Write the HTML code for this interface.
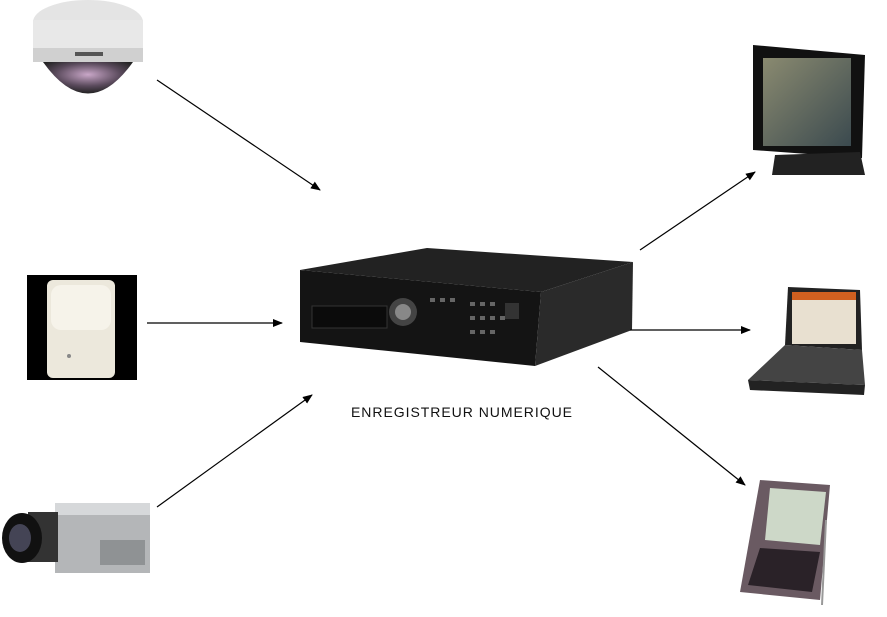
<!DOCTYPE html>
<html><head><meta charset="utf-8"><style>
body{margin:0;background:#fff;width:887px;height:612px;overflow:hidden;font-family:"Liberation Sans",sans-serif}
</style></head><body>
<svg width="887" height="612" viewBox="0 0 887 612" xmlns="http://www.w3.org/2000/svg">
<defs>
<marker id="a" markerWidth="10" markerHeight="8" refX="9" refY="4" orient="auto" markerUnits="userSpaceOnUse"><path d="M0,0 L10,4 L0,8z" fill="#000"/></marker>
<radialGradient id="dome" cx="50%" cy="40%" r="60%"><stop offset="0" stop-color="#c9a7c8"/><stop offset="0.6" stop-color="#5a4a5c"/><stop offset="1" stop-color="#222"/></radialGradient>
<linearGradient id="scr" x1="0" y1="0" x2="1" y2="1"><stop offset="0" stop-color="#8a8a70"/><stop offset="1" stop-color="#3b4a4f"/></linearGradient>
</defs>
<!-- dome camera -->
<ellipse cx="88" cy="22" rx="55" ry="22" fill="#e4e4e4"/>
<rect x="33" y="20" width="110" height="42" fill="#e8e8e8"/>
<rect x="33" y="48" width="110" height="14" fill="#d0d0d0"/>
<rect x="75" y="52" width="28" height="4" fill="#555"/>
<path d="M43,62 Q88,125 133,62z" fill="url(#dome)"/>
<!-- PIR -->
<rect x="27" y="275" width="110" height="105" fill="#000"/>
<rect x="47" y="280" width="68" height="98" rx="6" fill="#ece8dc"/>
<rect x="51" y="285" width="60" height="45" rx="10" fill="#f6f3ea"/>
<circle cx="69" cy="356" r="2" fill="#888"/>
<!-- box camera -->
<rect x="55" y="503" width="95" height="70" fill="#b4b6b8"/>
<rect x="55" y="503" width="95" height="12" fill="#d6d8da"/>
<rect x="100" y="540" width="45" height="25" fill="#8f9294"/>
<rect x="28" y="512" width="30" height="50" fill="#333"/>
<ellipse cx="22" cy="538" rx="20" ry="25" fill="#111"/>
<ellipse cx="20" cy="538" rx="11" ry="14" fill="#445"/>
<!-- DVR -->
<polygon points="300,270 427,248 633,262 541,292" fill="#222"/>
<polygon points="300,270 541,292 535,366 300,342" fill="#141414"/>
<polygon points="541,292 633,262 632,330 535,366" fill="#2a2a2a"/>
<rect x="312" y="306" width="75" height="22" fill="#0b0b0b" stroke="#333"/>
<circle cx="403" cy="312" r="14" fill="#444"/><circle cx="403" cy="312" r="8" fill="#888"/>
<g fill="#666"><rect x="430" y="298" width="5" height="4"/><rect x="440" y="298" width="5" height="4"/><rect x="450" y="298" width="5" height="4"/><rect x="470" y="302" width="5" height="4"/><rect x="480" y="302" width="5" height="4"/><rect x="490" y="302" width="5" height="4"/><rect x="470" y="316" width="5" height="4"/><rect x="480" y="316" width="5" height="4"/><rect x="490" y="316" width="5" height="4"/><rect x="500" y="316" width="5" height="4"/><rect x="470" y="330" width="5" height="4"/><rect x="480" y="330" width="5" height="4"/><rect x="490" y="330" width="5" height="4"/></g>
<rect x="505" y="303" width="14" height="16" fill="#333"/>
<!-- monitor -->
<polygon points="753,45 865,55 862,158 753,150" fill="#111"/>
<rect x="763" y="58" width="88" height="88" fill="url(#scr)"/>
<polygon points="775,155 860,152 865,175 772,175" fill="#222"/>
<!-- laptop -->
<polygon points="788,287 860,290 862,350 785,345" fill="#222"/>
<rect x="792" y="292" width="64" height="52" fill="#e8e0d0"/>
<rect x="792" y="292" width="64" height="8" fill="#d06020"/>
<polygon points="785,345 862,350 865,385 748,380" fill="#444"/>
<polygon points="748,380 865,385 864,395 750,390" fill="#222"/>
<!-- phone -->
<polygon points="760,480 830,485 820,600 740,592" fill="#6a5a62"/>
<polygon points="770,488 826,492 820,545 765,540" fill="#cdd8c8"/>
<polygon points="760,548 820,552 812,592 748,585" fill="#2a2228"/>
<line x1="826" y1="520" x2="822" y2="605" stroke="#999" stroke-width="2"/>
<!-- arrows -->
<g stroke="#000" stroke-width="1.2" marker-end="url(#a)">
<line x1="157" y1="80" x2="320" y2="190"/>
<line x1="147" y1="323" x2="282" y2="323"/>
<line x1="157" y1="507" x2="312" y2="395"/>
<line x1="640" y1="250" x2="755" y2="172"/>
<line x1="630" y1="330" x2="750" y2="330"/>
<line x1="598" y1="367" x2="745" y2="485"/>
</g>
<text x="351" y="417" font-family="Liberation Sans, sans-serif" font-size="14" fill="#111" textLength="221" lengthAdjust="spacing">ENREGISTREUR  NUMERIQUE</text>
</svg>
</body></html>
